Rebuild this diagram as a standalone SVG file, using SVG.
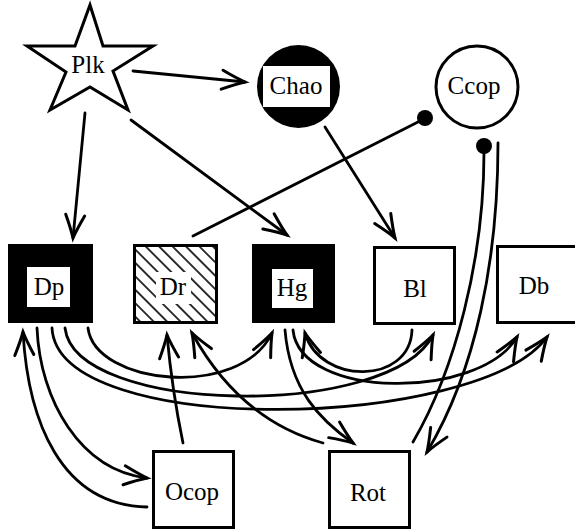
<svg xmlns="http://www.w3.org/2000/svg" width="575" height="529" viewBox="0 0 575 529">
<style>
text{font-family:"Liberation Serif","Times New Roman","DejaVu Serif",serif;font-size:25px;text-anchor:middle;fill:#000}
.box{fill:#fff;stroke:#000;stroke-width:3}
.blk{fill:#000}
.con{fill:none;stroke:#000;stroke-width:2.8;stroke-linecap:round}
.arr{marker-end:url(#ah)}
</style>
<defs>
<marker id="ah" markerUnits="userSpaceOnUse" markerWidth="30" markerHeight="30" viewBox="-26 -13 30 26" refX="0" refY="0" orient="auto" overflow="visible">
<path d="M-23,-9.5 Q-9,-3 0,0 Q-9,3 -23,9.5" fill="none" stroke="#000" stroke-width="3" stroke-linejoin="miter" stroke-linecap="round"/>
</marker>
<pattern id="hatch" patternUnits="userSpaceOnUse" width="9.5" height="9.5" patternTransform="rotate(45)">
<line x1="0" y1="4.75" x2="9.5" y2="4.75" stroke="#000" stroke-width="1.6"/>
</pattern>
</defs>
<g id="connectors">
<path class="con arr" d="M133,71 L245,82"/>
<path class="con arr" d="M85,113 L73,238"/>
<path class="con arr" d="M131,120 L287,235"/>
<path class="con arr" d="M325,127 L395,238"/>
<path class="con" d="M193,236 L418,122"/>
<circle cx="425" cy="118" r="8" fill="#000"/>
<path class="con" d="M413,442 C455,370 484,260 484,152"/>
<circle cx="484" cy="146" r="8" fill="#000"/>
<path class="con arr" d="M498,143 C498,260 476,370 427,452"/>
<path class="con arr" d="M183,443 Q172,390 167,335"/>
<path class="con arr" d="M37,328 C40,400 80,470 147,478"/>
<path class="con arr" d="M147,507 C60,505 28,420 23,332"/>
<path class="con arr" d="M88,328 C95,385 240,400 272,333"/>
<path class="con arr" d="M65,328 C75,415 390,420 433,335"/>
<path class="con arr" d="M52,328 C58,440 480,430 547,337"/>
<path class="con arr" d="M293,330 C300,400 480,400 517,337"/>
<path class="con arr" d="M412,330 C410,385 320,385 305,333"/>
<path class="con arr" d="M285,330 C290,390 320,420 353,443"/>
<path class="con arr" d="M323,443 Q240,420 192,333"/>
</g>
<g id="Plk">
<polygon points="90,5 103,46 153,46 113,71 128,110 90,87 50,110 66,72 27,46 75,46" fill="#fff" stroke="#000" stroke-width="3" stroke-linejoin="miter"/>
<text x="88" y="73">Plk</text>
</g>
<g id="Chao">
<circle cx="298.5" cy="86.5" r="41.5" class="blk"/>
<rect x="263" y="66" width="67" height="41" fill="#fff"/>
<text x="296" y="94">Chao</text>
</g>
<g id="Ccop">
<circle cx="477" cy="87" r="41" fill="#fff" stroke="#000" stroke-width="3"/>
<text x="474" y="94">Ccop</text>
</g>
<g id="Dp">
<rect x="8" y="244" width="85" height="79" class="blk"/>
<rect x="27" y="267" width="43" height="40" fill="#fff"/>
<text x="49" y="295">Dp</text>
</g>
<g id="Dr">
<rect x="134.5" y="245.5" width="82" height="77" fill="#fff" stroke="none"/>
<rect x="134.5" y="245.5" width="82" height="77" fill="url(#hatch)" stroke="#000" stroke-width="3"/>
<rect x="156" y="272" width="35" height="32" fill="#fff"/>
<text x="173" y="295">Dr</text>
</g>
<g id="Hg">
<rect x="252" y="244" width="83" height="79" class="blk"/>
<rect x="272" y="269" width="41" height="39" fill="#fff"/>
<text x="292" y="296">Hg</text>
</g>
<g id="Bl">
<rect x="374.5" y="247.5" width="80" height="76" class="box"/>
<text x="415" y="297">Bl</text>
</g>
<g id="Db">
<rect x="497.5" y="246.5" width="90" height="76" class="box"/>
<text x="534" y="294">Db</text>
</g>
<g id="Ocop">
<rect x="153.5" y="451.5" width="80" height="76" class="box"/>
<text x="192" y="500">Ocop</text>
</g>
<g id="Rot">
<rect x="329.5" y="451.5" width="80" height="76" class="box"/>
<text x="368" y="501">Rot</text>
</g>
</svg>
